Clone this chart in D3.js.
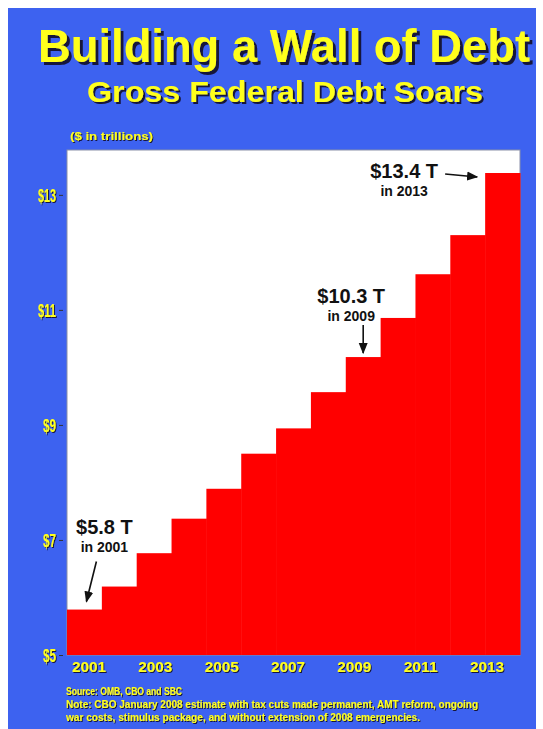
<!DOCTYPE html>
<html>
<head>
<meta charset="utf-8">
<style>
  body { margin: 0; background: #fff; }
  text { font-family: "Liberation Sans", Arial, sans-serif; font-weight: bold; }
</style>
</head>
<body>
<svg width="543" height="729"></svg>
<script src="https://cdn.jsdelivr.net/npm/d3@7"></script>
<script>

var years = [2001, 2002, 2003, 2004, 2005, 2006, 2007, 2008, 2009, 2010, 2011, 2012, 2013];
var debt = [5.79, 6.19, 6.77, 7.37, 7.89, 8.50, 8.94, 9.57, 10.18, 10.86, 11.62, 12.30, 13.38];
var yTicks = [5, 7, 9, 11, 13];
var xTickYears = [2001, 2003, 2005, 2007, 2009, 2011, 2013];
var callouts = [
  {year: 2001, big: "$5.8 T", small: "in 2001"},
  {year: 2009, big: "$10.3 T", small: "in 2009"},
  {year: 2013, big: "$13.4 T", small: "in 2013"}
];
var notes = [
  "Source:  OMB, CBO and SBC",
  "Note: CBO January 2008 estimate with tax cuts made permanent, AMT reform, ongoing",
  "war costs, stimulus package, and without extension of 2008 emergencies."
];

var svg = d3.select("svg");
var yellow = "#ffff1e";

var defs = svg.append("defs");
[["sh3", 3], ["sh2", 2], ["sh1", 1]].forEach(function(f) {
  defs.append("filter").attr("id", f[0])
      .attr("x", "-5%").attr("y", "-20%").attr("width", "115%").attr("height", "150%")
    .append("feDropShadow")
      .attr("dx", f[1]).attr("dy", f[1]).attr("stdDeviation", 0.4)
      .attr("flood-color", "#16163a").attr("flood-opacity", 1);
});

svg.append("rect").attr("x", 8).attr("y", 8).attr("width", 528).attr("height", 721)
    .attr("fill", "#3d62f0");

var margin = {top: 150, left: 67, right: 520, bottom: 655};

var x = d3.scaleBand().domain(years).range([margin.left, margin.right]).padding(0);
var y = d3.scaleLinear().domain([5, 13.78]).range([margin.bottom, margin.top]);
var xl = d3.scalePoint().domain(xTickYears).range([89, 487]);

function yText(tx, ty, str, size, anchor, filt, len) {
  var t = svg.append("text")
      .attr("x", tx).attr("y", ty)
      .style("font-size", size + "px")
      .attr("text-anchor", anchor)
      .attr("fill", yellow)
      .attr("filter", "url(#" + filt + ")")
      .text(str);
  if (len) t.attr("textLength", len).attr("lengthAdjust", "spacingAndGlyphs");
  return t;
}

yText(284, 62, "Building a Wall of Debt", 46, "middle", "sh3", 492);
yText(285, 102, "Gross Federal Debt Soars", 30, "middle", "sh2", 396);
yText(70, 140, "($ in trillions)", 10, "start", "sh1", 83);

// plot background
svg.append("rect")
    .attr("x", margin.left).attr("y", margin.top)
    .attr("width", margin.right - margin.left).attr("height", margin.bottom - margin.top)
    .attr("fill", "#fff").attr("stroke", "#8a8fa8").attr("stroke-width", 1);

// the wall
svg.append("g").selectAll("rect")
  .data(years)
  .join("rect")
    .attr("x", function(d) { return x(d); })
    .attr("y", function(d, i) { return y(debt[i]); })
    .attr("width", x.bandwidth() + 0.5)
    .attr("height", function(d, i) { return y(5) - y(debt[i]); })
    .attr("fill", "#ff0000");

// y axis
var yAxis = svg.append("g")
    .attr("transform", "translate(" + (margin.left - 4) + ",0)")
    .call(d3.axisLeft(y).tickValues(yTicks).tickSize(4).tickFormat(function(d) { return "$" + d; }));
yAxis.select(".domain").remove();
yAxis.selectAll(".tick line").attr("stroke", "#333");
yAxis.selectAll(".tick text")
    .attr("x", -7).attr("dy", "0.36em")
    .style("font-size", "19px")
    .style("font-family", "'Liberation Sans Narrow', 'Liberation Sans', sans-serif")
    .attr("fill", yellow)
    .attr("filter", "url(#sh1)")
    .attr("lengthAdjust", "spacingAndGlyphs")
    .attr("textLength", function(d) { return d >= 10 ? 18 : 13; });

// x labels
xTickYears.forEach(function(yr) {
  yText(xl(yr), 672, String(yr), 15, "middle", "sh1", 34);
});

// callouts
var c0 = callouts[0], c1 = callouts[1], c2 = callouts[2];
var i0 = years.indexOf(c0.year), i1 = years.indexOf(c1.year), i2 = years.indexOf(c2.year);
var cx0 = x(c0.year) + x.bandwidth() / 2;
var cx1 = x(c1.year) + x.bandwidth() / 2;

defs.append("marker")
    .attr("id", "ah").attr("viewBox", "0 0 10 10")
    .attr("refX", 9).attr("refY", 5)
    .attr("markerWidth", 7).attr("markerHeight", 7)
    .attr("orient", "auto")
  .append("path").attr("d", "M0,1L10,5L0,9z").attr("fill", "#111");

function callout(tx, ty, c) {
  svg.append("text").attr("x", tx).attr("y", ty).attr("text-anchor", "middle")
      .style("font-size", "20px").attr("fill", "#111").text(c.big);
  svg.append("text").attr("x", tx).attr("y", ty + 18).attr("text-anchor", "middle")
      .style("font-size", "14px").attr("fill", "#111").text(c.small);
}
function arrow(x1, y1, x2, y2) {
  svg.append("line").attr("x1", x1).attr("y1", y1).attr("x2", x2).attr("y2", y2)
      .attr("stroke", "#111").attr("stroke-width", 1.6).attr("marker-end", "url(#ah)");
}

callout(cx0 + 20, y(debt[i0]) - 76, c0);
arrow(cx0 + 12, y(debt[i0]) - 48, cx0 + 2, y(debt[i0]) - 8);

callout(cx1 - 12, y(debt[i1]) - 54, c1);
arrow(cx1, y(debt[i1]) - 32, cx1, y(debt[i1]) - 4);

callout(x(c2.year) - 81, y(debt[i2]) + 5, c2);
arrow(x(c2.year) - 40, y(debt[i2]) + 1, x(c2.year) - 8, y(debt[i2]) + 4);

// notes
notes.forEach(function(n, i) {
  yText(66, 695 + i * 13, n, 10.5, "start", "sh1", i === 0 ? 116 : (i === 1 ? 412 : 354));
});

</script>
</body>
</html>
